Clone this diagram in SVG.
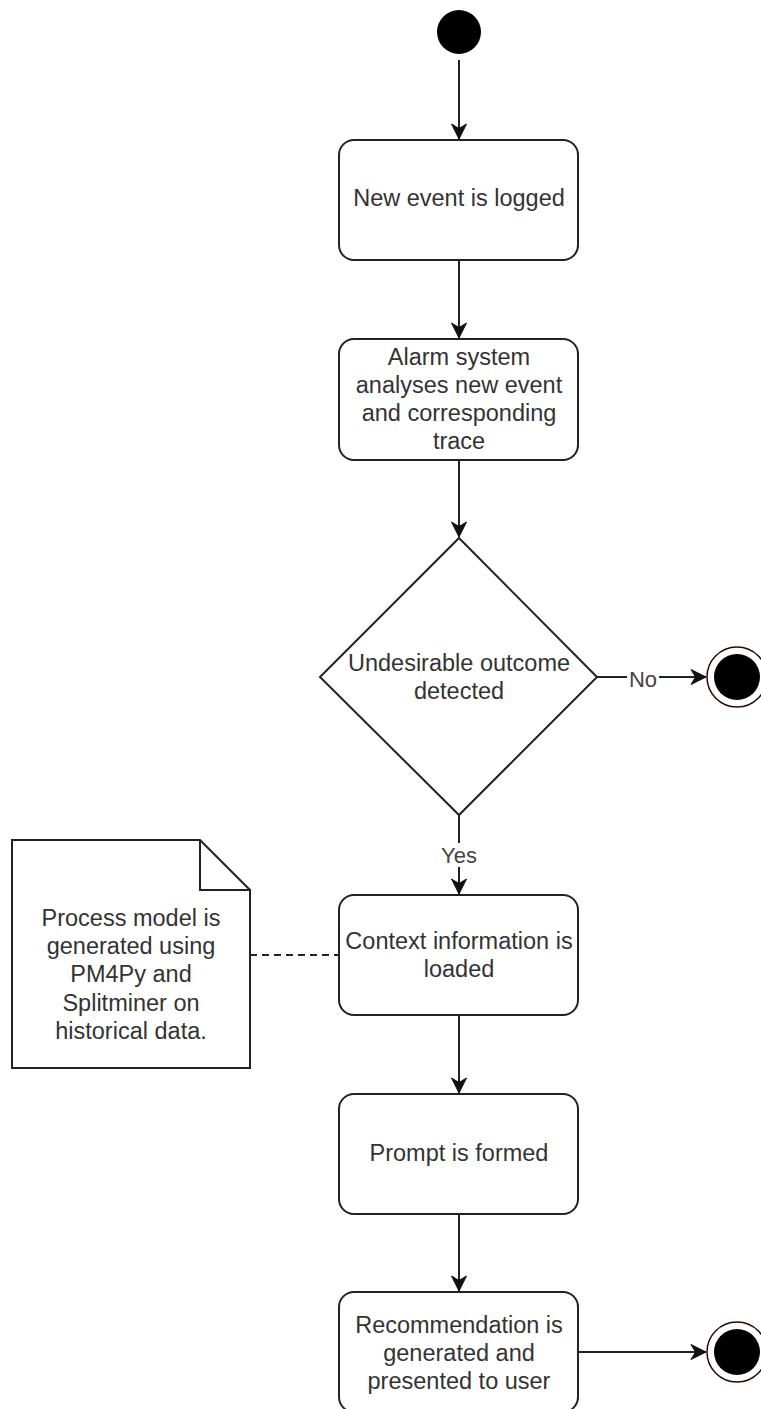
<svg xmlns="http://www.w3.org/2000/svg" width="761" height="1409" viewBox="0 0 761 1409">
  <style>
    .box { fill: #ffffff; stroke: #222222; stroke-width: 2; }
    .lbl { font-family: "Liberation Sans", Arial, sans-serif; font-size: 23.5px; fill: #333333; text-anchor: middle; dominant-baseline: central; }
    .elbl { font-family: "Liberation Sans", Arial, sans-serif; font-size: 22px; fill: #444444; text-anchor: middle; dominant-baseline: central; }
    .edge { fill: none; stroke: #222222; stroke-width: 2; }
    .dash { fill: none; stroke: #222222; stroke-width: 2; stroke-dasharray: 7 5; }
    .endring { fill: #ffffff; stroke: #2a0808; stroke-width: 1.5; }
  </style>
  <defs>
    <marker id="arrow" markerUnits="userSpaceOnUse" viewBox="-16 -9 17 18" refX="0" refY="0" markerWidth="17" markerHeight="18" orient="auto">
      <path d="M0,0 L-15,-7.5 L-10.5,0 L-15,7.5 Z" fill="#111111" stroke="#111111" stroke-width="1"/>
    </marker>
  </defs>

  <rect x="0" y="0" width="761" height="1409" fill="#ffffff"/>

  <!-- connectors -->
  <g id="connectors">
    <line class="edge" x1="459" y1="60" x2="459" y2="139" marker-end="url(#arrow)"/>
    <line class="edge" x1="459" y1="260" x2="459" y2="338" marker-end="url(#arrow)"/>
    <line class="edge" x1="459" y1="460" x2="459" y2="537" marker-end="url(#arrow)"/>
    <line class="edge" x1="597" y1="677" x2="706" y2="677" marker-end="url(#arrow)"/>
    <rect x="627" y="665" width="32" height="24" fill="#ffffff"/>
    <text class="elbl" x="643" y="679">No</text>
    <line class="edge" x1="459" y1="815" x2="459" y2="894" marker-end="url(#arrow)"/>
    <rect x="436" y="843" width="46" height="24" fill="#ffffff"/>
    <text class="elbl" x="459" y="855">Yes</text>
    <line class="edge" x1="459" y1="1015" x2="459" y2="1093" marker-end="url(#arrow)"/>
    <line class="edge" x1="459" y1="1214" x2="459" y2="1291" marker-end="url(#arrow)"/>
    <line class="edge" x1="578" y1="1352" x2="706" y2="1352" marker-end="url(#arrow)"/>
    <line class="dash" x1="250" y1="955" x2="339" y2="955"/>
  </g>

  <!-- initial state -->
  <g id="start">
    <circle cx="459" cy="32" r="22" fill="#000000"/>
  </g>

  <g id="new-event">
    <rect class="box" x="339" y="140" width="239" height="120" rx="15"/>
    <text class="lbl" x="459" y="198">New event is logged</text>
  </g>

  <g id="analyse">
    <rect class="box" x="339" y="339" width="239" height="121" rx="15"/>
    <text class="lbl" x="459" y="357">Alarm system</text>
    <text class="lbl" x="459" y="385">analyses new event</text>
    <text class="lbl" x="459" y="413">and corresponding</text>
    <text class="lbl" x="459" y="441">trace</text>
  </g>

  <g id="decision">
    <polygon class="box" points="459,538 597,677 459,815 320,677"/>
    <text class="lbl" x="459" y="663">Undesirable outcome</text>
    <text class="lbl" x="459" y="691">detected</text>
  </g>

  <g id="end-no">
    <circle class="endring" cx="737" cy="677" r="30"/>
    <circle cx="737" cy="677" r="23" fill="#000000"/>
  </g>

  <g id="note">
    <path class="box" d="M12,840 L200,840 L250,890 L250,1068 L12,1068 Z"/>
    <path fill="none" stroke="#222222" stroke-width="2" d="M200,840 L200,890 L250,890"/>
    <text class="lbl" x="131" y="918">Process model is</text>
    <text class="lbl" x="131" y="946">generated using</text>
    <text class="lbl" x="131" y="974">PM4Py and</text>
    <text class="lbl" x="131" y="1003">Splitminer on</text>
    <text class="lbl" x="131" y="1031">historical data.</text>
  </g>

  <g id="context">
    <rect class="box" x="339" y="895" width="239" height="120" rx="15"/>
    <text class="lbl" x="459" y="941">Context information is</text>
    <text class="lbl" x="459" y="969">loaded</text>
  </g>

  <g id="prompt">
    <rect class="box" x="339" y="1094" width="239" height="120" rx="15"/>
    <text class="lbl" x="459" y="1153">Prompt is formed</text>
  </g>

  <g id="recommendation">
    <rect class="box" x="339" y="1292" width="239" height="120" rx="15"/>
    <text class="lbl" x="459" y="1325">Recommendation is</text>
    <text class="lbl" x="459" y="1353">generated and</text>
    <text class="lbl" x="459" y="1381">presented to user</text>
  </g>

  <g id="end-final">
    <circle class="endring" cx="737" cy="1352" r="30"/>
    <circle cx="737" cy="1352" r="23" fill="#000000"/>
  </g>
</svg>
